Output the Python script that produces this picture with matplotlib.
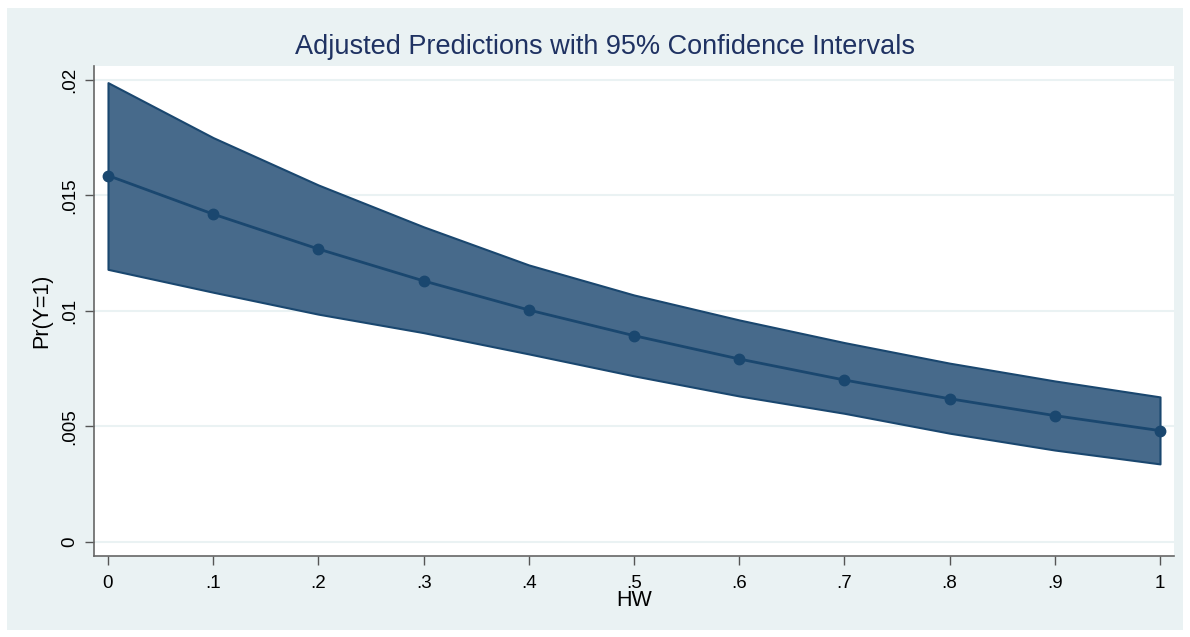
import numpy as np
import matplotlib.pyplot as plt
from matplotlib.patches import Rectangle

# valores
hw = [0, .1, .2, .3, .4, .5, .6, .7, .8, .9, 1]
pred = [0.01586, 0.01419, 0.01268, 0.01130, 0.01004, 0.00893,
        0.00792, 0.00701, 0.00620, 0.00547, 0.00482]
upper = [0.01988, 0.01750, 0.01545, 0.01364, 0.01199, 0.01069,
         0.00961, 0.00863, 0.00774, 0.00697, 0.00628]
lower = [0.01180, 0.01081, 0.00986, 0.00906, 0.00814, 0.00719,
         0.00632, 0.00557, 0.00471, 0.00398, 0.00338]

yticks = [0, .005, .01, .015, .02]
ytick_labels = ["0", ".005", ".01", ".015", ".02"]
xticks = hw
xtick_labels = ["0", ".1", ".2", ".3", ".4", ".5", ".6", ".7", ".8", ".9", "1"]

navy = "#1a476f"
fill = "#476a8b"
bg = "#eaf2f3"

plt.rcParams["font.family"] = ["Liberation Sans", "DejaVu Sans"]

fig = plt.figure(figsize=(11.9, 6.37), dpi=100)
fig.patches.append(Rectangle((7 / 1190, 7 / 637), 1176 / 1190, 622 / 637,
                             transform=fig.transFigure, facecolor=bg,
                             edgecolor="none", zorder=-1))

ax = fig.add_axes([94 / 1190, 1 - 556 / 637, 1080 / 1190, 490 / 637])
ax.set_facecolor("white")

ax.fill_between(hw, lower, upper, facecolor=fill, edgecolor=navy, linewidth=1.5, zorder=2)
ax.plot(hw, pred, color=navy, linewidth=2, marker="o", markersize=7.5, zorder=3)

ax.set_xlim(-0.0133, 1.0133)
ax.set_ylim(-0.000606, 0.0206)

ax.set_yticks(yticks)
ax.set_yticklabels(ytick_labels, rotation=90, va="center")
ax.set_xticks(xticks)
ax.set_xticklabels(xtick_labels)
ax.tick_params(axis="both", labelsize=13.5, color="#555555", length=6.5, width=1)
ax.tick_params(axis="y", pad=5)
ax.tick_params(axis="x", pad=7)

ax.grid(axis="y", color=bg, linewidth=1.5, zorder=0)
ax.set_axisbelow(True)

for s in ["top", "right"]:
    ax.spines[s].set_visible(False)
for s in ["left", "bottom"]:
    ax.spines[s].set_color("#666666")
    ax.spines[s].set_linewidth(1.2)

ax.set_xlabel("HW", fontsize=15.5, labelpad=-1)
ax.set_ylabel("Pr(Y=1)", fontsize=15.5, labelpad=6)
fig.text(605 / 1190, 1 - 47 / 637, "Adjusted Predictions with 95% Confidence Intervals",
         ha="center", va="center", fontsize=19.5, color="#1f3262")

fig.savefig("out.png", dpi=100)
